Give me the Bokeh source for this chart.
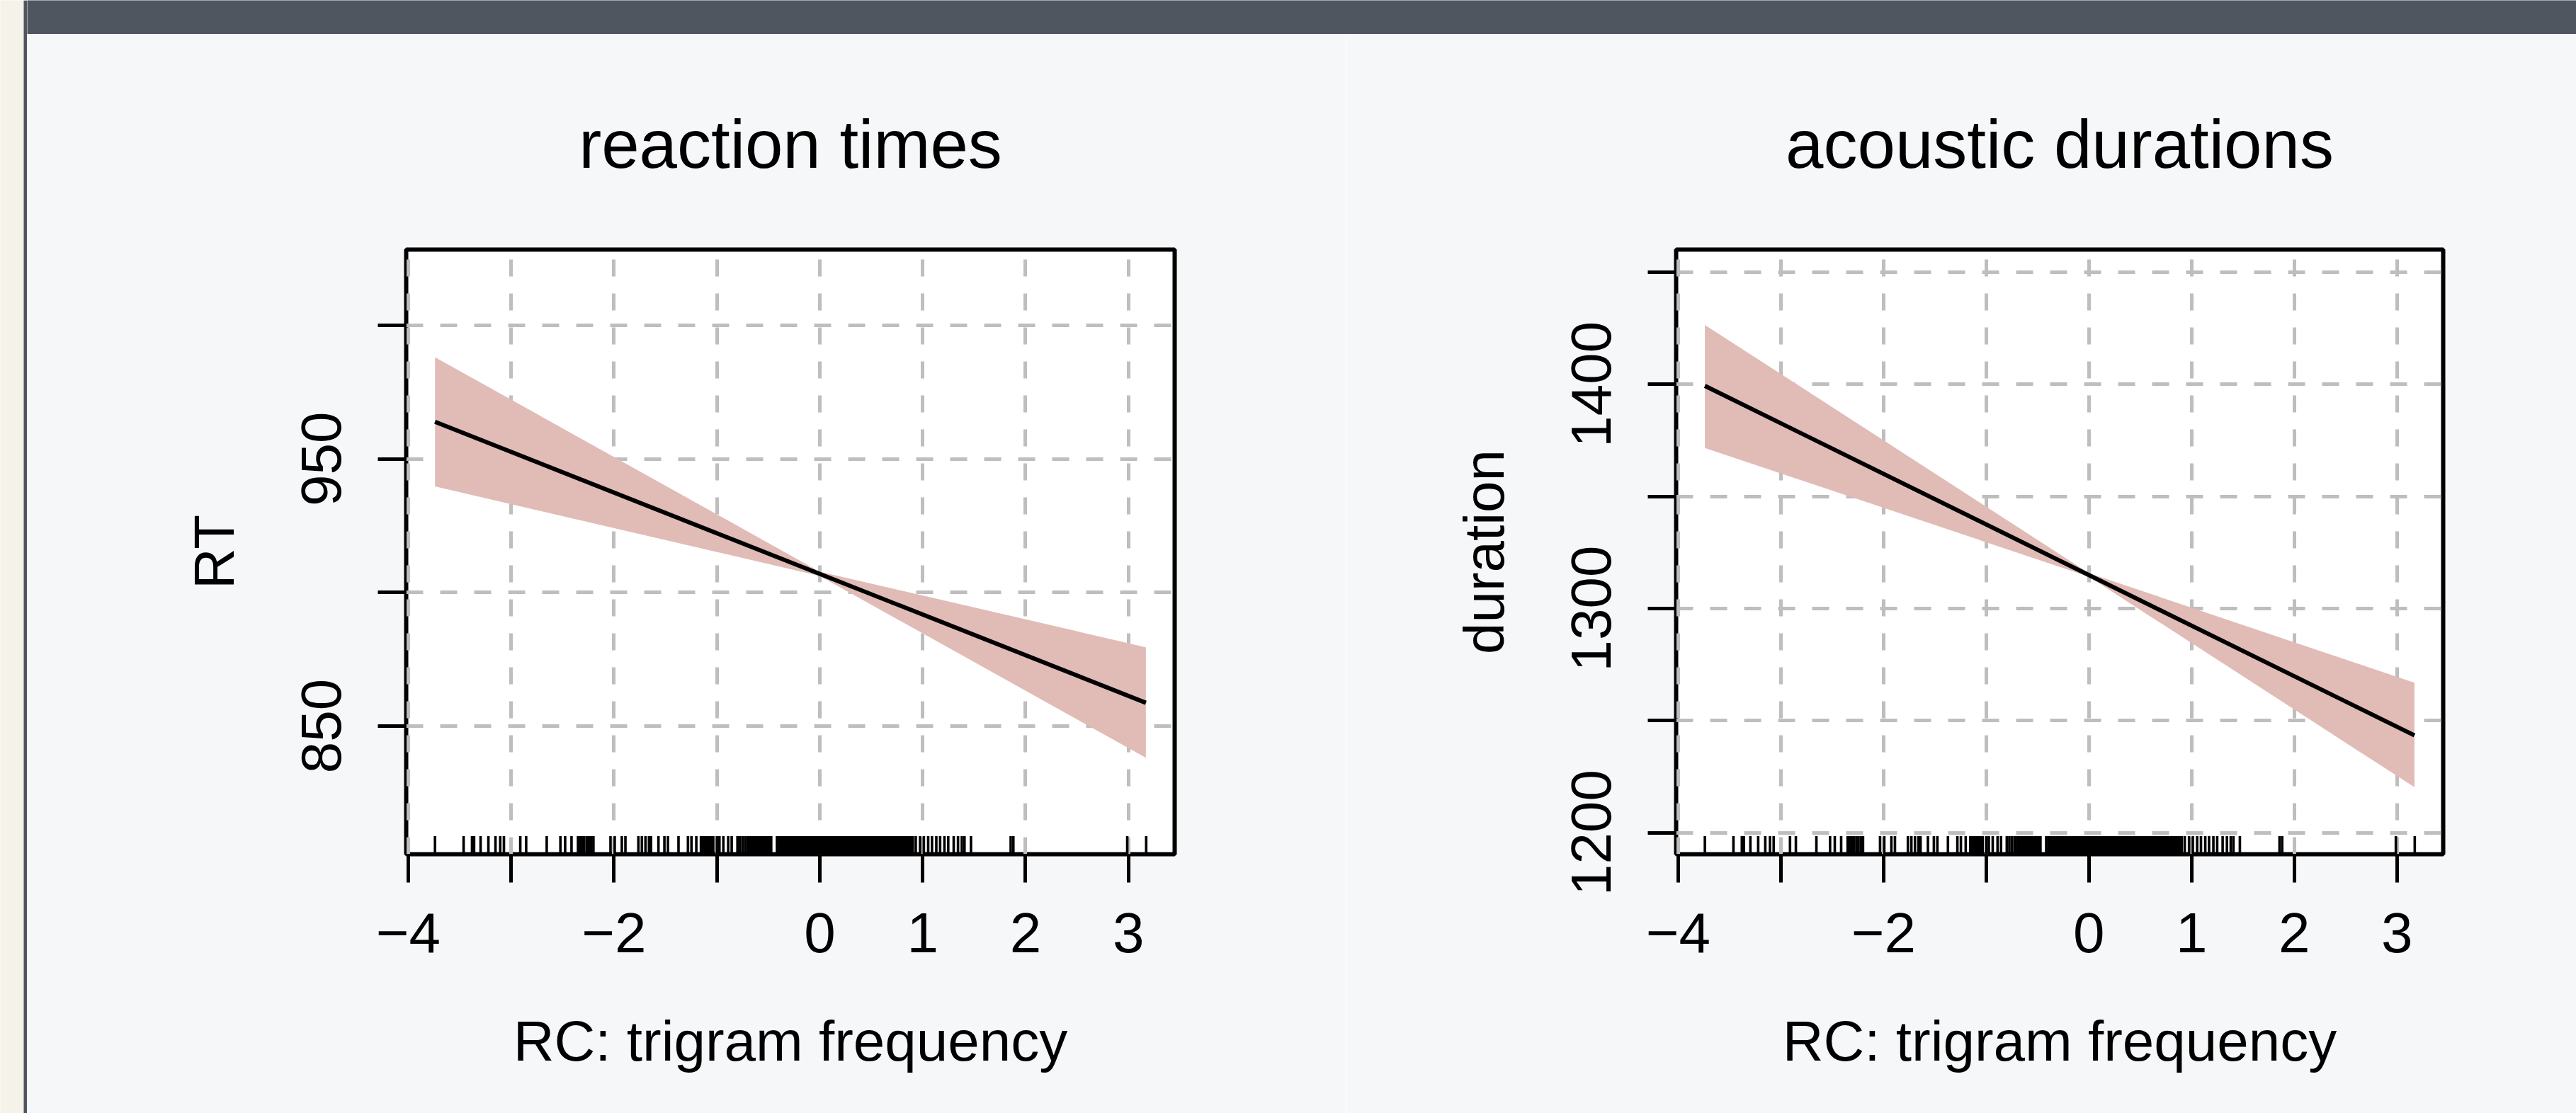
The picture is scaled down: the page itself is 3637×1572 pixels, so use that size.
from bokeh.plotting import figure
from bokeh.layouts import row, column
from bokeh.models import FixedTicker, Range1d
from bokeh.embed import file_html
from bokeh.resources import INLINE

FONT = "Liberation Sans"

# ---------------- data ----------------
x_ticks = [-4, -3, -2, -1, 0, 1, 2, 3]
x_tick_labels = ["\u22124", "", "\u22122", "", "0", "1", "2", "3"]

rt_ticks = [850, 900, 950, 1000]
rt_tick_labels = ["850", "", "950", ""]
dur_ticks = [1200, 1250, 1300, 1350, 1400, 1450]
dur_tick_labels = ["1200", "", "1300", "", "1400", ""]

band_x = [-3.74, 0.0, 3.17]
fit_x = [-3.74, 3.17]

rt_upper = [988.1, 907.8, 879.5]
rt_lower = [939.7, 906.2, 838.1]
rt_fit = [963.9, 858.7]

dur_upper = [1426.5, 1315.8, 1266.9]
dur_lower = [1371.6, 1314.2, 1220.3]
dur_fit = [1399.3, 1243.4]

# rug: observed values of the trigram-frequency predictor
rug_x = [
    -3.74, -3.462, -3.38, -3.36, -3.297, -3.221, -3.152, -3.106, -3.07, -2.911,
    -2.854, -2.654, -2.521, -2.475, -2.413, -2.35, -2.33, -2.31, -2.29, -2.265,
    -2.245, -2.222, -2.2, -2.034, -1.993, -1.924, -1.889, -1.763, -1.729, -1.694,
    -1.66, -1.64, -1.568, -1.51, -1.476, -1.373, -1.281, -1.247, -1.2,
    -1.155, -1.14, -1.125, -1.11, -1.095, -1.08, -1.065, -1.05, -1.035, -1.0,
    -0.975, -0.937, -0.89, -0.856, -0.80, -0.775, -0.75, -0.725, -0.70, -0.685,
    -0.672, -0.66, -0.648, -0.636, -0.622, -0.61, -0.598, -0.585, -0.572, -0.56,
    -0.548, -0.535, -0.522, -0.51, -0.497, -0.484, -0.472, -0.416, -0.395,
    -0.38, -0.366, -0.35, -0.337, -0.322, -0.308, -0.293, -0.279, -0.264, -0.25,
    -0.236, -0.221, -0.207, -0.192, -0.178, -0.163, -0.149, -0.135, -0.12, -0.106,
    -0.091, -0.077, -0.062, -0.048, -0.034, -0.019, -0.005, 0.01, 0.024, 0.039,
    0.053, 0.067, 0.082, 0.096, 0.111, 0.125, 0.14, 0.154, 0.168, 0.183,
    0.197, 0.212, 0.226, 0.241, 0.255, 0.269, 0.284, 0.298, 0.313, 0.327,
    0.342, 0.356, 0.37, 0.385, 0.399, 0.414, 0.428, 0.443, 0.457, 0.471,
    0.486, 0.5, 0.515, 0.529, 0.544, 0.558, 0.572, 0.587, 0.601, 0.616,
    0.63, 0.645, 0.659, 0.673, 0.688, 0.702, 0.717, 0.731, 0.746, 0.76,
    0.774, 0.789, 0.803, 0.818, 0.832, 0.847, 0.861, 0.875, 0.89, 0.904,
    0.933, 0.975, 1.012, 1.054, 1.091, 1.133, 1.17, 1.212, 1.249, 1.302,
    1.344, 1.381, 1.407, 1.47, 1.856, 1.882, 2.989, 3.173,
]

x_lim = (-4.02, 3.45)
rt_lim = (802.0, 1028.4)
dur_lim = (1190.4, 1460.1)

# ---------------- styling ----------------
CARD_BG = "#f6f7f9"
HEADER = "#50565f"
BEIGE = "#f5f2ea"
BAND = "#e1bcb6"
GRID = "#bebebe"

PH = 1524  # panel figure height


def make_panel(title, ylab, y_lim, y_ticks, y_tick_labels, upper, lower, fit,
               width, mb_left, mb_right):
    p = figure(width=width, height=PH, x_range=Range1d(*x_lim), y_range=Range1d(*y_lim),
               output_backend="svg", toolbar_location=None,
               min_border_left=mb_left, min_border_right=mb_right,
               min_border_top=304, min_border_bottom=366)
    p.background_fill_color = "white"
    p.border_fill_color = CARD_BG
    p.outline_line_color = "black"
    p.outline_line_width = 6

    p.title.text = title
    p.title.text_font = FONT
    p.title.text_font_size = "96px"
    p.title.text_font_style = "normal"
    p.title.text_color = "black"
    p.title.align = "center"
    p.title.standoff = 192

    xa = p.xaxis[0]
    xa.ticker = FixedTicker(ticks=x_ticks)
    xa.major_label_overrides = dict(zip(x_ticks, x_tick_labels))
    ya = p.yaxis[0]
    ya.ticker = FixedTicker(ticks=y_ticks)
    ya.major_label_overrides = dict(zip(y_ticks, y_tick_labels))
    ya.major_label_orientation = "vertical"

    xa.axis_label = "RC: trigram frequency"
    ya.axis_label = ylab
    for ax in (xa, ya):
        ax.axis_line_color = None
        ax.major_tick_in = 0
        ax.major_tick_out = 40
        ax.major_tick_line_width = 5
        ax.major_tick_line_color = "black"
        ax.minor_tick_line_color = None
        ax.major_label_text_font = FONT
        ax.major_label_text_font_size = "80px"
        ax.major_label_text_color = "black"
        ax.axis_label_text_font = FONT
        ax.axis_label_text_font_size = "80px"
        ax.axis_label_text_font_style = "normal"
        ax.axis_label_text_color = "black"
    xa.major_label_standoff = 43
    xa.axis_label_standoff = 78
    ya.major_label_standoff = 52
    ya.axis_label_standoff = 77

    for g in (p.xgrid[0], p.ygrid[0]):
        g.grid_line_color = GRID
        g.grid_line_width = 5
        g.grid_line_dash = "24 24"

    p.varea(x=band_x, y1=lower, y2=upper, fill_color=BAND, fill_alpha=1.0)
    p.line(x=fit_x, y=fit, line_color="black", line_width=6)

    y0 = y_lim[0]
    y1 = y_lim[0] + 0.03 * (y_lim[1] - y_lim[0])
    p.segment(x0=rug_x, y0=[y0] * len(rug_x), x1=rug_x, y1=[y1] * len(rug_x),
              line_color="black", line_width=3.6)
    return p


p1 = make_panel("reaction times", "RT", rt_lim, rt_ticks, rt_tick_labels,
                rt_upper, rt_lower, rt_fit, width=1862, mb_left=535, mb_right=242)
p2 = make_panel("acoustic durations", "duration", dur_lim, dur_ticks, dur_tick_labels,
                dur_upper, dur_lower, dur_fit, width=1737, mb_left=466, mb_right=188)


def blank(width, height, color, xr=(0, 1), yr=(0, 1)):
    f = figure(width=width, height=height, x_range=Range1d(*xr), y_range=Range1d(*yr),
               output_backend="svg", toolbar_location=None,
               x_axis_location=None, y_axis_location=None, min_border=0)
    f.grid.visible = False
    f.outline_line_color = None
    f.background_fill_color = color
    f.border_fill_color = color
    return f


strip = blank(38, 1572, BEIGE, xr=(0, 38), yr=(0, 1))
strip.quad(left=[33], right=[38], bottom=[0], top=[1], fill_color=HEADER, line_color=None)

header = blank(3599, 48, HEADER, xr=(0, 3599), yr=(0, 48))

layout = row(strip, column(header, row(p1, p2)))

open("out.html", "w").write(file_html(layout, INLINE))
